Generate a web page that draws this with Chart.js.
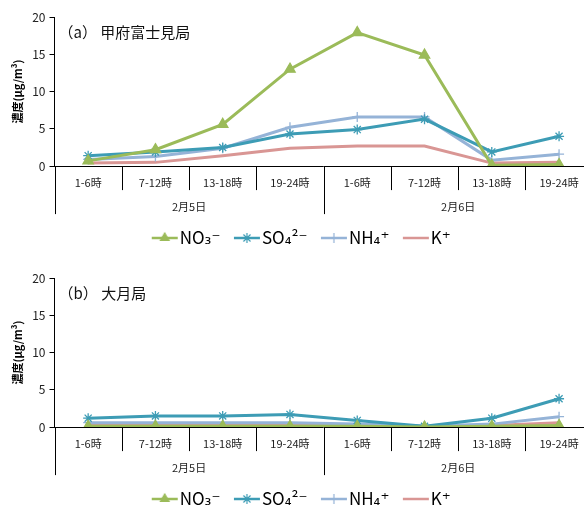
<!DOCTYPE html>
<html>
<head>
<meta charset="utf-8">
<script src="https://cdn.jsdelivr.net/npm/chart.js@4"></script>
<style>
  html, body { margin: 0; padding: 0; background: #fff; }
  #wrap { width: 584px; height: 509px; overflow: hidden; position: relative; }
  canvas { display: block; }
</style>
</head>
<body>
<div id="wrap">
  <canvas id="chartA" width="600" height="261"></canvas>
  <canvas id="chartB" width="600" height="261"></canvas>
</div>
<script>
// 時間帯と日付
const timeLabels = ['1-6時', '7-12時', '13-18時', '19-24時', '1-6時', '7-12時', '13-18時', '19-24時'];
const dateLabels = ['2月5日', '2月6日'];
const seriesNames = ['NO₃⁻', 'SO₄²⁻', 'NH₄⁺', 'K⁺'];

// (a) 甲府富士見局
const no3A = [0.7, 2.2, 5.6, 13.0, 17.9, 14.9, 0.1, 0.2];
const so4A = [1.4, 1.9, 2.5, 4.3, 4.9, 6.3, 1.9, 4.0];
const nh4A = [0.9, 1.3, 2.4, 5.2, 6.6, 6.6, 0.8, 1.6];
const kA   = [0.4, 0.5, 1.4, 2.4, 2.7, 2.7, 0.4, 0.5];

// (b) 大月局
const no3B = [0.1, 0.1, 0.1, 0.1, 0.1, 0.0, 0.1, 0.2];
const so4B = [1.2, 1.5, 1.5, 1.7, 0.9, 0.1, 1.2, 3.8];
const nh4B = [0.6, 0.6, 0.6, 0.6, 0.4, 0.1, 0.4, 1.4];
const kB   = [0.4, 0.4, 0.4, 0.4, 0.3, 0.1, 0.2, 0.6];

const yMax = 20;
const yStep = 5;

const FONT = '"Noto Sans CJK JP", "DejaVu Sans", sans-serif';
const colors = ['#9BBB59', '#3D9CB5', '#95B3D7', '#D99694'];
const markers = ['triangle', 'star', 'cross', false];
const markerSize = [6, 5, 5, 0];

// 凡例用の小さな線+マーカー画像
function legendIcon(i) {
  const c = document.createElement('canvas');
  c.width = 33; c.height = 14;
  const g = c.getContext('2d');
  g.strokeStyle = colors[i];
  g.lineWidth = 2.5;
  g.beginPath();
  g.moveTo(6, 7); g.lineTo(32, 7);
  g.stroke();
  if (markers[i]) {
    g.fillStyle = colors[i];
    g.lineWidth = 1.2;
    Chart.helpers.drawPoint(g, {pointStyle: markers[i], radius: 5, borderWidth: 1.2, rotation: 0}, 19, 7);
  }
  return c;
}

// 区切り線・パネル名
const decoPlugin = {
  id: 'deco',
  afterDraw(chart, args, opts) {
    const ctx = chart.ctx;
    const xs = chart.scales.x;
    const area = chart.chartArea;
    const n = timeLabels.length;
    const per = n / dateLabels.length;
    const w = (xs.right - xs.left) / n;
    ctx.save();
    ctx.strokeStyle = '#000';
    ctx.lineWidth = 1;
    for (let i = 0; i <= n; i++) {
      const x = Math.round(xs.left + i * w) + 0.5;
      const len = (i % per === 0) ? 48 : 24;
      ctx.beginPath();
      ctx.moveTo(x, area.bottom);
      ctx.lineTo(x, area.bottom + len);
      ctx.stroke();
    }
    ctx.fillStyle = '#111';
    ctx.font = '15px ' + FONT;
    ctx.textBaseline = 'middle';
    ctx.textAlign = 'left';
    ctx.fillText(opts.text, area.left + 4, area.top + 15);
    ctx.restore();
  }
};

function makeChart(id, title, data) {
  new Chart(document.getElementById(id), {
    type: 'line',
    data: {
      labels: timeLabels,
      datasets: data.map((d, i) => ({
        label: seriesNames[i],
        data: d,
        borderColor: colors[i],
        backgroundColor: colors[i],
        borderWidth: 3,
        pointStyle: markers[i],
        pointRadius: markerSize[i],
        pointBorderWidth: 1.3,
        pointHoverRadius: markerSize[i],
        tension: 0,
        order: i
      }))
    },
    options: {
      responsive: false,
      animation: false,
      layout: { padding: { left: 11, right: 7, top: 17, bottom: 4.5 } },
      plugins: {
        deco: { text: title },
        tooltip: { enabled: false },
        legend: {
          position: 'bottom',
          labels: {
            usePointStyle: true,
            pointStyleWidth: 18,
            padding: 15,
            color: '#000',
            font: { family: FONT, size: 17 },
            generateLabels: (chart) => chart.data.datasets.map((ds, i) => ({
              text: ds.label,
              pointStyle: legendIcon(i),
              fillStyle: colors[i],
              strokeStyle: colors[i],
              lineWidth: 0,
              fontColor: '#000',
              datasetIndex: i,
              hidden: false
            }))
          }
        }
      },
      scales: {
        x: {
          offset: true,
          grid: { display: true, drawOnChartArea: false, drawTicks: false },
          border: { color: '#000', width: 1 },
          ticks: { color: '#222', padding: 10, font: { family: FONT, size: 11 }, maxRotation: 0, autoSkip: false }
        },
        x2: {
          type: 'category',
          labels: dateLabels,
          position: 'bottom',
          offset: true,
          grid: { display: false, drawTicks: false },
          border: { display: false },
          ticks: { color: '#222', padding: 1, font: { family: FONT, size: 11 }, maxRotation: 0 }
        },
        y: {
          min: 0,
          max: yMax,
          ticks: { stepSize: yStep, color: '#222', padding: 4, font: { family: FONT, size: 12 } },
          grid: { drawOnChartArea: false, tickLength: 5, color: '#000' },
          border: { color: '#000', width: 1 },
          title: {
            display: true,
            text: '濃度(μg/m³)',
            color: '#000',
            font: { family: FONT, size: 11, weight: 'bold' },
            padding: { top: 0, bottom: 4 }
          }
        }
      }
    },
    plugins: [decoPlugin]
  });
}

makeChart('chartA', '（a） 甲府富士見局', [no3A, so4A, nh4A, kA]);
makeChart('chartB', '（b） 大月局', [no3B, so4B, nh4B, kB]);
</script>
</body>
</html>
